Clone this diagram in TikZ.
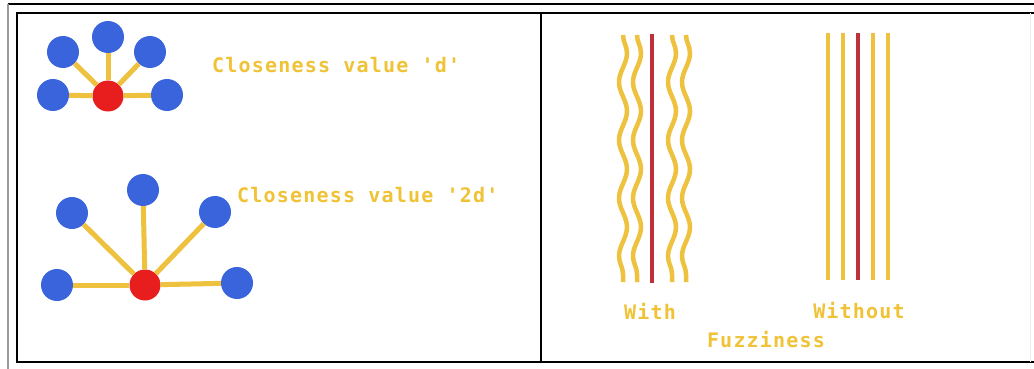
\documentclass[tikz,border=0pt]{standalone}
\usepackage{fontspec}
\usetikzlibrary{decorations.pathmorphing}
\newfontfamily\lblfont[LetterSpace=6]{DejaVu Sans Mono}
\definecolor{gold}{HTML}{EEC13E}
\definecolor{txtgold}{HTML}{F0C236}
\definecolor{nodeblue}{HTML}{3A64DC}
\definecolor{nodered}{HTML}{E81E1E}
\definecolor{linered}{HTML}{C0303A}
\tikzset{
  bluedot/.style={circle,fill=nodeblue,draw=none,minimum size=#1,inner sep=0pt},
  reddot/.style={circle,fill=nodered,draw=none,minimum size=#1,inner sep=0pt},
  spoke/.style={draw=gold,line width=5pt},
  lbl/.style={text=txtgold,inner sep=0pt,font=\lblfont\bfseries\fontsize{20}{22}\selectfont},
  wavy/.style={draw=gold,line width=4.5pt,decorate,decoration={snake,segment length=58pt,amplitude=4pt}},
  straightline/.style={draw=gold,line width=4.5pt},
  redline/.style={draw=linered,line width=4.5pt},
  frame/.style={draw=black,line width=1.4pt}
}
\begin{document}
\begin{tikzpicture}[x=1pt,y=-1pt]
\useasboundingbox (0,0) rectangle (1034,369);
\fill[white] (0,0) rectangle (1034,369);
% frames
\draw[frame] (8,4) -- (1040,4);
\draw[draw=gray!80,line width=1.6pt] (8,4) -- (8,369);
\draw[frame] (1040,13) -- (17,13) -- (17,362) -- (1040,362);
\draw[frame] (541,13) -- (541,362);
\draw[draw=gray!15,line width=1pt] (1030,13) -- (1030,362);
% top network
\node[reddot=31pt] (c1) at (108,96) {};
\node[bluedot=32pt] (a1) at (53,95) {};
\node[bluedot=32pt] (a2) at (63,52) {};
\node[bluedot=32pt] (a3) at (108,37) {};
\node[bluedot=32pt] (a4) at (150,52) {};
\node[bluedot=32pt] (a5) at (167,95) {};
\foreach \n in {a1,a2,a3,a4,a5} \draw[spoke] (c1) -- (\n);
\node[lbl,anchor=west] (t1) at (212,65) {Closeness value 'd'};
% bottom network
\node[reddot=31pt] (c2) at (145,285) {};
\node[bluedot=32pt] (b1) at (57,285) {};
\node[bluedot=32pt] (b2) at (72,213) {};
\node[bluedot=32pt] (b3) at (143,190) {};
\node[bluedot=32pt] (b4) at (215,212) {};
\node[bluedot=32pt] (b5) at (237,283) {};
\foreach \n in {b1,b2,b3,b4,b5} \draw[spoke] (c2) -- (\n);
\node[lbl,anchor=west] (t2) at (237,195) {Closeness value '2d'};
% with fuzziness
\draw[wavy] (623,35) -- (623,282);
\draw[wavy] (637,35) -- (637,282);
\draw[redline] (652,34) -- (652,283);
\draw[wavy] (672,35) -- (672,282);
\draw[wavy] (686,35) -- (686,282);
% without
\draw[straightline] (828,33) -- (828,280);
\draw[straightline] (843,33) -- (843,280);
\draw[redline] (858,33) -- (858,280);
\draw[straightline] (873,33) -- (873,280);
\draw[straightline] (888,33) -- (888,280);
\node[lbl] (w1) at (650,311) {With};
\node[lbl] (w2) at (859,311) {Without};
\node[lbl] (fz) at (766,340) {Fuzziness};
\end{tikzpicture}
\end{document}
